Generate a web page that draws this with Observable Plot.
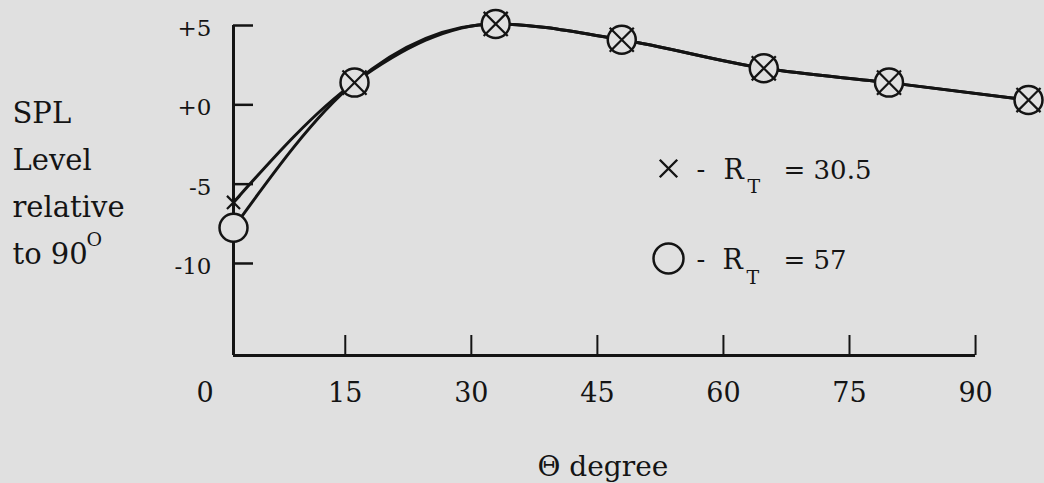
<!DOCTYPE html>
<html><head><meta charset="utf-8">
<script src="https://cdn.jsdelivr.net/npm/d3@7"></script>
<script src="https://cdn.jsdelivr.net/npm/@observablehq/plot@0.6"></script>
<style>
html,body{margin:0;padding:0;background:#e0e0e0;}
#chart svg{display:block;}
</style></head><body><div id="chart"></div>
<script>
// ---- data ----
const angles   = [1.7, 16.1, 32.9, 47.9, 64.8, 79.7, 96.3];   // Θ (degree), as drawn
const splRT57  = [-7.75, 1.4, 5.1, 4.1, 2.3, 1.4, 0.3];       // ○  R_T = 57
const splRT305 = [-6.15, 1.4, 5.1, 4.1, 2.3, 1.4, 0.3];       // ×  R_T = 30.5
const yTicks = [5, 0, -5, -10];
const yTickLabels = ["+5", "+0", "-5", "-10"];
const xTicks = [15, 30, 45, 60, 75, 90];
const xTickLabels = ["15", "30", "45", "60", "75", "90"];
const xZeroLabel = "0";
const yTitle = "SPL\nLevel\nrelative\nto 90";
const yTitleSup = "O";
const xTitle = "\u0398 degree";
const legendValues = ["30.5", "57"];

// ---- layout ----
const W = 1044, H = 483, ML = 233, MR = 16, MT = 25, MB = 128;
const xMin = 1.7, xMax = 96.3, xAxisEnd = 90, yMin = -15.8, yMax = 5;
const ink = "#141414", bg = "#e0e0e0";
const FONT = "DejaVu Serif";

const ser57  = angles.map((a, i) => ({angle: a, spl: splRT57[i]}));
const ser305 = angles.map((a, i) => ({angle: a, spl: splRT305[i], inCircle: splRT305[i] === splRT57[i]}));

const at = (px, py) => ({frameAnchor: "top-left", dx: px - ML, dy: py - MT});
const label = (s, px, py, size, anchor = "start") =>
  Plot.text([s], {...at(px, py), text: d => d, textAnchor: anchor, lineAnchor: "bottom", fontSize: size, fill: ink});

const chart = Plot.plot({
  width: W, height: H,
  marginLeft: ML, marginRight: MR, marginTop: MT, marginBottom: MB,
  x: {domain: [xMin, xMax], axis: null},
  y: {domain: [yMin, yMax], axis: null},
  style: {fontFamily: FONT, background: bg, color: ink, overflow: "visible"},
  marks: [
    // axes frame
    Plot.ruleX([xMin], {y1: yMin, y2: yMax, stroke: ink, strokeWidth: 3}),
    Plot.ruleY([yMin], {x1: xMin, x2: xAxisEnd, stroke: ink, strokeWidth: 3}),
    Plot.axisY({ticks: yTicks, tickSize: -20, tickFormat: () => "", label: null, stroke: ink, strokeWidth: 2.5}),
    Plot.axisX({ticks: xTicks, tickSize: -20, tickFormat: () => "", label: null, stroke: ink, strokeWidth: 2}),
    // tick labels
    Plot.text(yTicks, {x: xMin, y: d => d, text: (d, i) => yTickLabels[i], dx: -22, dy: 3, textAnchor: "end", fontSize: 23, fill: ink}),
    Plot.text(xTicks, {x: d => d, y: yMin, text: (d, i) => xTickLabels[i], dy: 38, fontSize: 27, fill: ink}),
    Plot.text([0], {x: d => d, y: yMin, text: () => xZeroLabel, dx: -14, dy: 38, fontSize: 27, fill: ink}),
    // titles
    Plot.text([yTitle], {...at(12, 263), text: d => d, textAnchor: "start", lineAnchor: "bottom", lineHeight: 1.62, fontSize: 29, fill: ink}),
    label(yTitleSup, 86, 245, 19),
    label(xTitle, 537, 475, 28),
    // curves
    Plot.line(ser305, {x: "angle", y: "spl", curve: "monotone-x", stroke: ink, strokeWidth: 3}),
    Plot.line(ser57,  {x: "angle", y: "spl", curve: "monotone-x", stroke: ink, strokeWidth: 3}),
    // markers
    Plot.dot(ser57, {x: "angle", y: "spl", r: 14, symbol: "circle", stroke: ink, strokeWidth: 2.5, fill: bg}),
    Plot.dot(ser305, {x: "angle", y: "spl", filter: d => d.inCircle, symbol: "times", r: 11, stroke: ink, strokeWidth: 2.2}),
    Plot.dot(ser305, {x: "angle", y: "spl", filter: d => !d.inCircle, symbol: "times", r: 6, stroke: ink, strokeWidth: 2.2}),
    // legend
    Plot.dot([0], {...at(668, 168), symbol: "times", r: 8, stroke: ink, strokeWidth: 2.4}),
    label("-", 696, 177, 26),
    label("R", 723, 178, 27),
    label("T", 747, 192, 19),
    label("= " + legendValues[0], 783, 178, 26),
    Plot.dot([0], {...at(668, 258), symbol: "circle", r: 15, stroke: ink, strokeWidth: 2.5, fill: "none"}),
    label("-", 696, 267, 26),
    label("R", 722, 268, 27),
    label("T", 746, 283, 19),
    label("= " + legendValues[1], 783, 268, 26)
  ]
});
document.getElementById("chart").append(chart);
</script>
</body></html>
